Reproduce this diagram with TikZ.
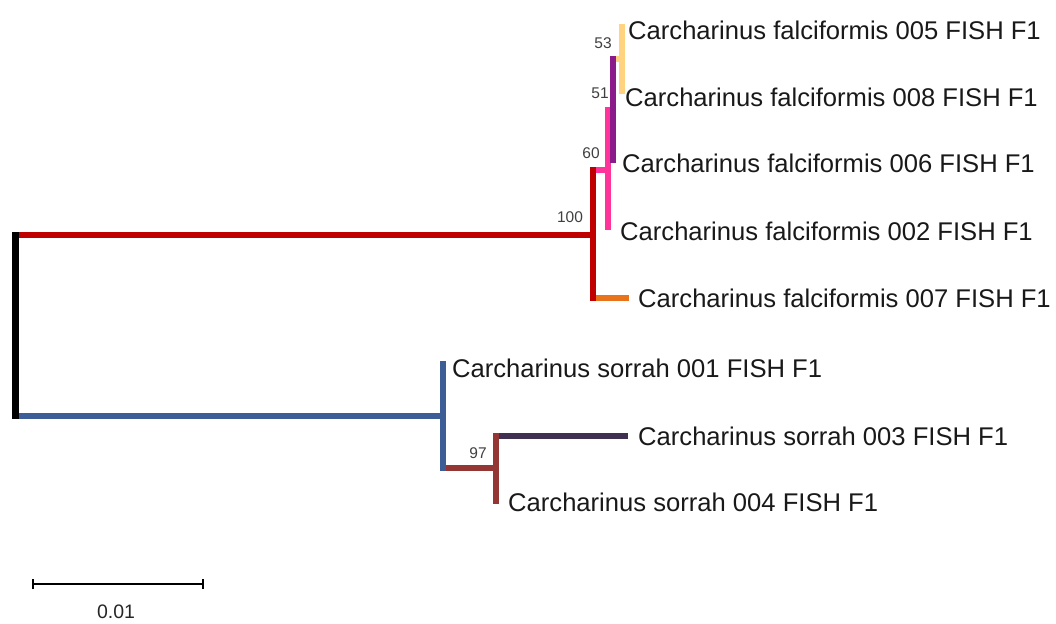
\documentclass[tikz,border=0pt]{standalone}
\usepackage{fontspec}
\setmainfont{Liberation Sans}
\definecolor{cred}{HTML}{C00000}
\definecolor{cyel}{HTML}{FFD37F}
\definecolor{cpur}{HTML}{8B1A8B}
\definecolor{cpink}{HTML}{FF3399}
\definecolor{corange}{HTML}{E8731A}
\definecolor{cblue}{HTML}{3C5D96}
\definecolor{cdpur}{HTML}{3F2F50}
\definecolor{cbrown}{HTML}{943634}
\begin{document}
\begin{tikzpicture}[x=1pt,y=-1pt,
  hbr/.style={line width=6.5pt},
  vbr/.style={line width=6.5pt, line cap=rect},
  tiplab/.style={anchor=west, inner sep=0pt, font=\fontsize{25.6}{28}\selectfont, text=black!90},
  boot/.style={inner sep=0pt, font=\fontsize{15.5}{17}\selectfont, text=black!75},
  scalebar/.style={line width=2.5pt}]
\useasboundingbox (0,0) rectangle (1056,623);

% internal nodes
\coordinate (root) at (15.5,326);
\coordinate (n100) at (593,235);
\coordinate (n60)  at (608,170);
\coordinate (n51)  at (613,110);
\coordinate (n53)  at (622,59);
\coordinate (ns)   at (443,416);
\coordinate (n97)  at (496,468);

% tips
\coordinate (t005) at (622,27);
\coordinate (t008) at (622,91);
\coordinate (t006) at (613,160);
\coordinate (t002) at (608,227);
\coordinate (t007) at (629,298);
\coordinate (t001) at (443,364);
\coordinate (t003) at (628,436);
\coordinate (t004) at (496,501);

% horizontal branches
\draw[hbr,cred]    (root |- n100) -- (n100);
\draw[hbr,cblue]   (root |- ns)   -- (ns);
\draw[hbr,cpink]   (n100 |- n60)  -- (n60);
\draw[hbr,corange] (n100 |- t007) -- (t007);
\draw[hbr,cpur]    (n60 |- n51)   -- (n51);
\draw[hbr,cyel]    (n51 |- n53)   -- (n53);
\draw[hbr,cbrown]  (ns |- n97)    -- (n97);
\draw[hbr,cdpur]   (n97 |- t003)  -- (t003);

% vertical connectors at each internal node
\draw[vbr,cred]    (n100 |- n60)  -- (n100 |- t007);
\draw[vbr,cpink]   (n60 |- n51)   -- (n60 |- t002);
\draw[vbr,cpur]    (n51 |- n53)   -- (n51 |- t006);
\draw[vbr,cyel]    (n53 |- t005)  -- (n53 |- t008);
\draw[vbr,cblue]   (ns |- t001)   -- (ns |- n97);
\draw[vbr,cbrown]  (n97 |- t003)  -- (n97 |- t004);
\draw[vbr,black]   (root |- n100) -- (root |- ns);

% support values
\node[boot] (b53)  at (603,43)  {53};
\node[boot] (b51)  at (600,93)  {51};
\node[boot] (b60)  at (591,153) {60};
\node[boot] (b100) at (570,217) {100};
\node[boot] (b97)  at (478,453) {97};

% tip labels
\node[tiplab] (l005) at (628,30)  {Carcharinus falciformis 005 FISH F1};
\node[tiplab] (l008) at (625,97)  {Carcharinus falciformis 008 FISH F1};
\node[tiplab] (l006) at (622,163) {Carcharinus falciformis 006 FISH F1};
\node[tiplab] (l002) at (620,231) {Carcharinus falciformis 002 FISH F1};
\node[tiplab] (l007) at (638,298) {Carcharinus falciformis 007 FISH F1};
\node[tiplab] (l001) at (452,368) {Carcharinus sorrah 001 FISH F1};
\node[tiplab] (l003) at (638,436) {Carcharinus sorrah 003 FISH F1};
\node[tiplab] (l004) at (508,502) {Carcharinus sorrah 004 FISH F1};

% scale bar
\coordinate (sbl) at (33,584);
\coordinate (sbr) at (203,584);
\draw[scalebar] (sbl) -- (sbr);
\draw[scalebar] ([yshift=-5pt]sbl) -- ([yshift=5pt]sbl);
\draw[scalebar] ([yshift=-5pt]sbr) -- ([yshift=5pt]sbr);
\node[inner sep=0pt, font=\fontsize{19.5}{22}\selectfont, text=black!85] (sblab) at (116,612) {0.01};
\end{tikzpicture}
\end{document}
